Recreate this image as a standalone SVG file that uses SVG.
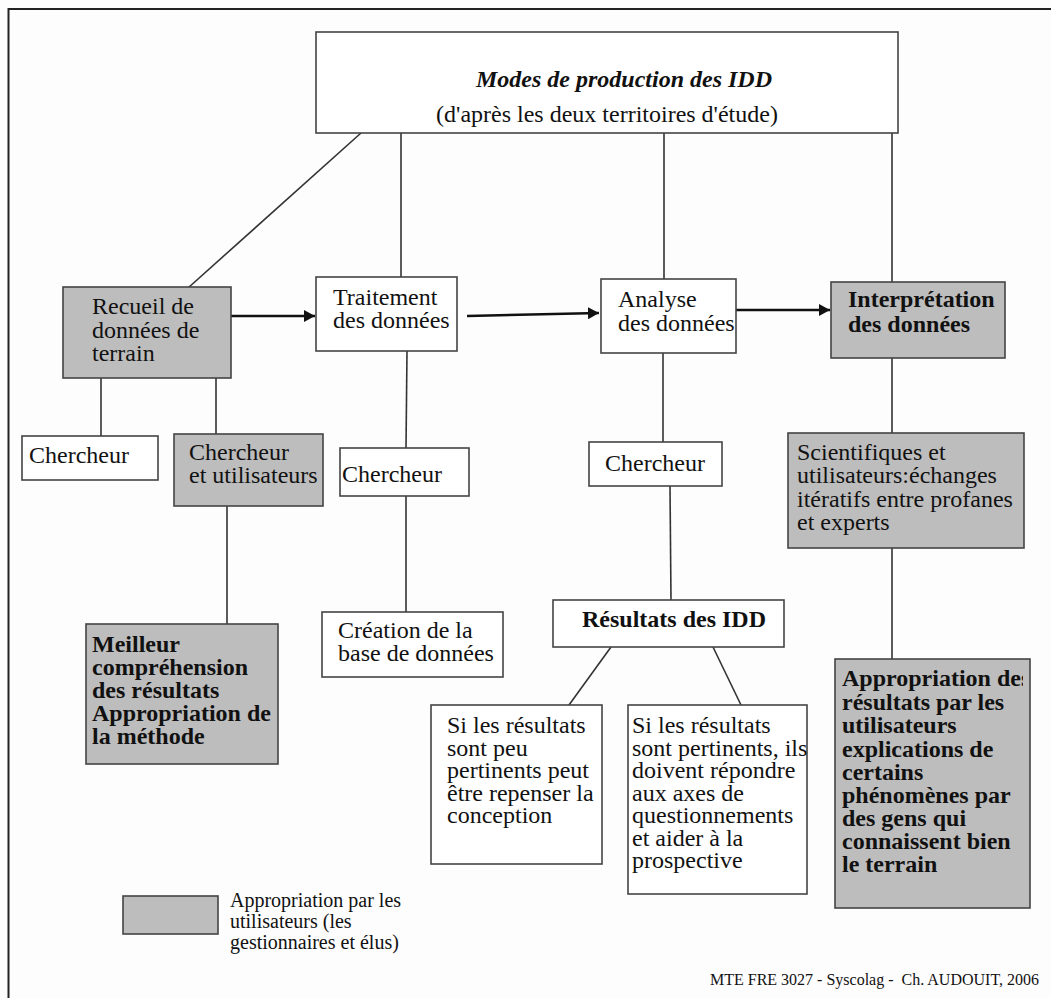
<svg xmlns="http://www.w3.org/2000/svg" width="1051" height="998" viewBox="0 0 1051 998">
<style>
.box{fill:#ffffff;stroke:#444;stroke-width:1.6}
.gray{fill:#bdbdbd;stroke:#444;stroke-width:1.6}
.t{font-family:"Liberation Serif","Times New Roman",serif;font-size:24px;fill:#111}
.b{font-weight:bold}
.sm{font-size:20px}
.ft{font-size:16px}
.ln{stroke:#333;stroke-width:1.6;fill:none}
.ar{stroke:#111;stroke-width:2.6;fill:none;marker-end:url(#ah)}
</style>
<defs>
<marker id="ah" markerWidth="12" markerHeight="12" refX="11" refY="6" orient="auto" markerUnits="userSpaceOnUse">
<path d="M0,0 L11,6 L0,12 Z" fill="#111"/>
</marker>
<clipPath id="clipA"><rect x="835" y="659" width="188" height="249"/></clipPath>
</defs>
<rect x="0" y="0" width="1051" height="998" fill="#fdfdfd"/>
<rect x="8.5" y="9" width="1100" height="1100" fill="none" stroke="#222" stroke-width="2"/>

<g id="connectors">
<line class="ln" x1="361" y1="133" x2="188" y2="288"/>
<line class="ln" x1="401" y1="133" x2="401" y2="277"/>
<line class="ln" x1="664" y1="133" x2="664" y2="279"/>
<line class="ln" x1="892" y1="133" x2="892" y2="282"/>
<line class="ar" x1="231" y1="316" x2="315" y2="316"/>
<line class="ar" x1="467" y1="316" x2="599" y2="313"/>
<line class="ar" x1="736" y1="310" x2="830" y2="310"/>
<line class="ln" x1="101" y1="378" x2="101" y2="436"/>
<line class="ln" x1="216" y1="378" x2="216" y2="434"/>
<line class="ln" x1="227" y1="506" x2="227" y2="624"/>
<line class="ln" x1="407" y1="351" x2="406" y2="448"/>
<line class="ln" x1="406" y1="496" x2="406" y2="612"/>
<line class="ln" x1="663" y1="353" x2="663" y2="442"/>
<line class="ln" x1="670" y1="486" x2="671" y2="600"/>
<line class="ln" x1="611" y1="647" x2="569" y2="705"/>
<line class="ln" x1="713" y1="647" x2="741" y2="705"/>
<line class="ln" x1="892" y1="358" x2="892" y2="433"/>
<line class="ln" x1="892" y1="548" x2="892" y2="659"/>
</g>

<g id="top">
<rect class="box" x="316" y="32" width="582" height="101"/>
<text class="t b" x="476" y="87" font-style="italic">Modes de production des IDD</text>
<text class="t" x="607" y="122" text-anchor="middle">(d'après les deux territoires d'étude)</text>
</g>

<g id="recueil">
<rect class="gray" x="63" y="287" width="168" height="91"/>
<text class="t"><tspan x="92" y="314">Recueil de</tspan><tspan x="92" y="338">données de</tspan><tspan x="92" y="361">terrain</tspan></text>
</g>

<g id="traitement">
<rect class="box" x="316" y="277" width="141" height="74"/>
<text class="t"><tspan x="333" y="305">Traitement</tspan><tspan x="333" y="328">des données</tspan></text>
</g>

<g id="analyse">
<rect class="box" x="601" y="279" width="135" height="74"/>
<text class="t"><tspan x="618" y="307">Analyse</tspan><tspan x="618" y="331">des données</tspan></text>
</g>

<g id="interpretation">
<rect class="gray" x="831" y="282" width="174" height="76"/>
<text class="t b"><tspan x="848" y="307">Interprétation</tspan><tspan x="848" y="332">des données</tspan></text>
</g>

<g id="chercheur1">
<rect class="box" x="22" y="436" width="136" height="44"/>
<text class="t" x="29" y="463">Chercheur</text>
</g>

<g id="chercheur-utilisateurs">
<rect class="gray" x="174" y="434" width="149" height="72"/>
<text class="t"><tspan x="189" y="460">Chercheur</tspan><tspan x="189" y="483">et utilisateurs</tspan></text>
</g>

<g id="chercheur2">
<rect class="box" x="340" y="448" width="129" height="48"/>
<text class="t" x="342" y="482">Chercheur</text>
</g>

<g id="creation">
<rect class="box" x="322" y="612" width="181" height="65"/>
<text class="t"><tspan x="338" y="638">Création de la</tspan><tspan x="338" y="661">base de données</tspan></text>
</g>

<g id="meilleur">
<rect class="gray" x="86" y="624" width="192" height="140"/>
<text class="t b"><tspan x="92" y="652">Meilleur</tspan><tspan x="92" y="675">compréhension</tspan><tspan x="92" y="698">des résultats</tspan><tspan x="92" y="721">Appropriation de</tspan><tspan x="92" y="744">la méthode</tspan></text>
</g>

<g id="chercheur3">
<rect class="box" x="589" y="442" width="133" height="44"/>
<text class="t" x="605" y="471">Chercheur</text>
</g>

<g id="resultats">
<rect class="box" x="553" y="600" width="231" height="47"/>
<text class="t b" x="582" y="627">Résultats des IDD</text>
</g>

<g id="si-peu">
<rect class="box" x="431" y="705" width="171" height="159"/>
<text class="t"><tspan x="447" y="733">Si les résultats</tspan><tspan x="447" y="756">sont peu</tspan><tspan x="447" y="778">pertinents peut</tspan><tspan x="447" y="801">être repenser la</tspan><tspan x="447" y="823">conception</tspan></text>
</g>

<g id="si-pertinents">
<rect class="box" x="628" y="705" width="179" height="189"/>
<text class="t"><tspan x="632" y="733">Si les résultats</tspan><tspan x="632" y="756">sont pertinents, ils</tspan><tspan x="632" y="778">doivent répondre</tspan><tspan x="632" y="801">aux axes de</tspan><tspan x="632" y="823">questionnements</tspan><tspan x="632" y="846">et aider à la</tspan><tspan x="632" y="868">prospective</tspan></text>
</g>

<g id="scientifiques">
<rect class="gray" x="788" y="433" width="236" height="115"/>
<text class="t"><tspan x="797" y="460">Scientifiques et</tspan><tspan x="797" y="483">utilisateurs:échanges</tspan><tspan x="797" y="507">itératifs entre profanes</tspan><tspan x="797" y="530">et experts</tspan></text>
</g>

<g id="appropriation">
<rect class="gray" x="835" y="659" width="195" height="249"/>
<g clip-path="url(#clipA)"><text class="t b" x="842" y="686">Appropriation des</text></g>
<text class="t b"><tspan x="842" y="710">résultats par les</tspan><tspan x="842" y="733">utilisateurs</tspan><tspan x="842" y="757">explications de</tspan><tspan x="842" y="780">certains</tspan><tspan x="842" y="803">phénomènes par</tspan><tspan x="842" y="826">des gens qui</tspan><tspan x="842" y="849">connaissent bien</tspan><tspan x="842" y="872">le terrain</tspan></text>
</g>

<g id="legend">
<rect class="gray" x="123" y="896" width="95" height="38" stroke-width="2"/>
<text class="t sm"><tspan x="230" y="907">Appropriation par les</tspan><tspan x="230" y="928">utilisateurs (les</tspan><tspan x="230" y="949">gestionnaires et élus)</tspan></text>
</g>

<text class="t ft" x="1039" y="985" text-anchor="end" xml:space="preserve">MTE FRE 3027 - Syscolag -  Ch. AUDOUIT, 2006</text>
</svg>
